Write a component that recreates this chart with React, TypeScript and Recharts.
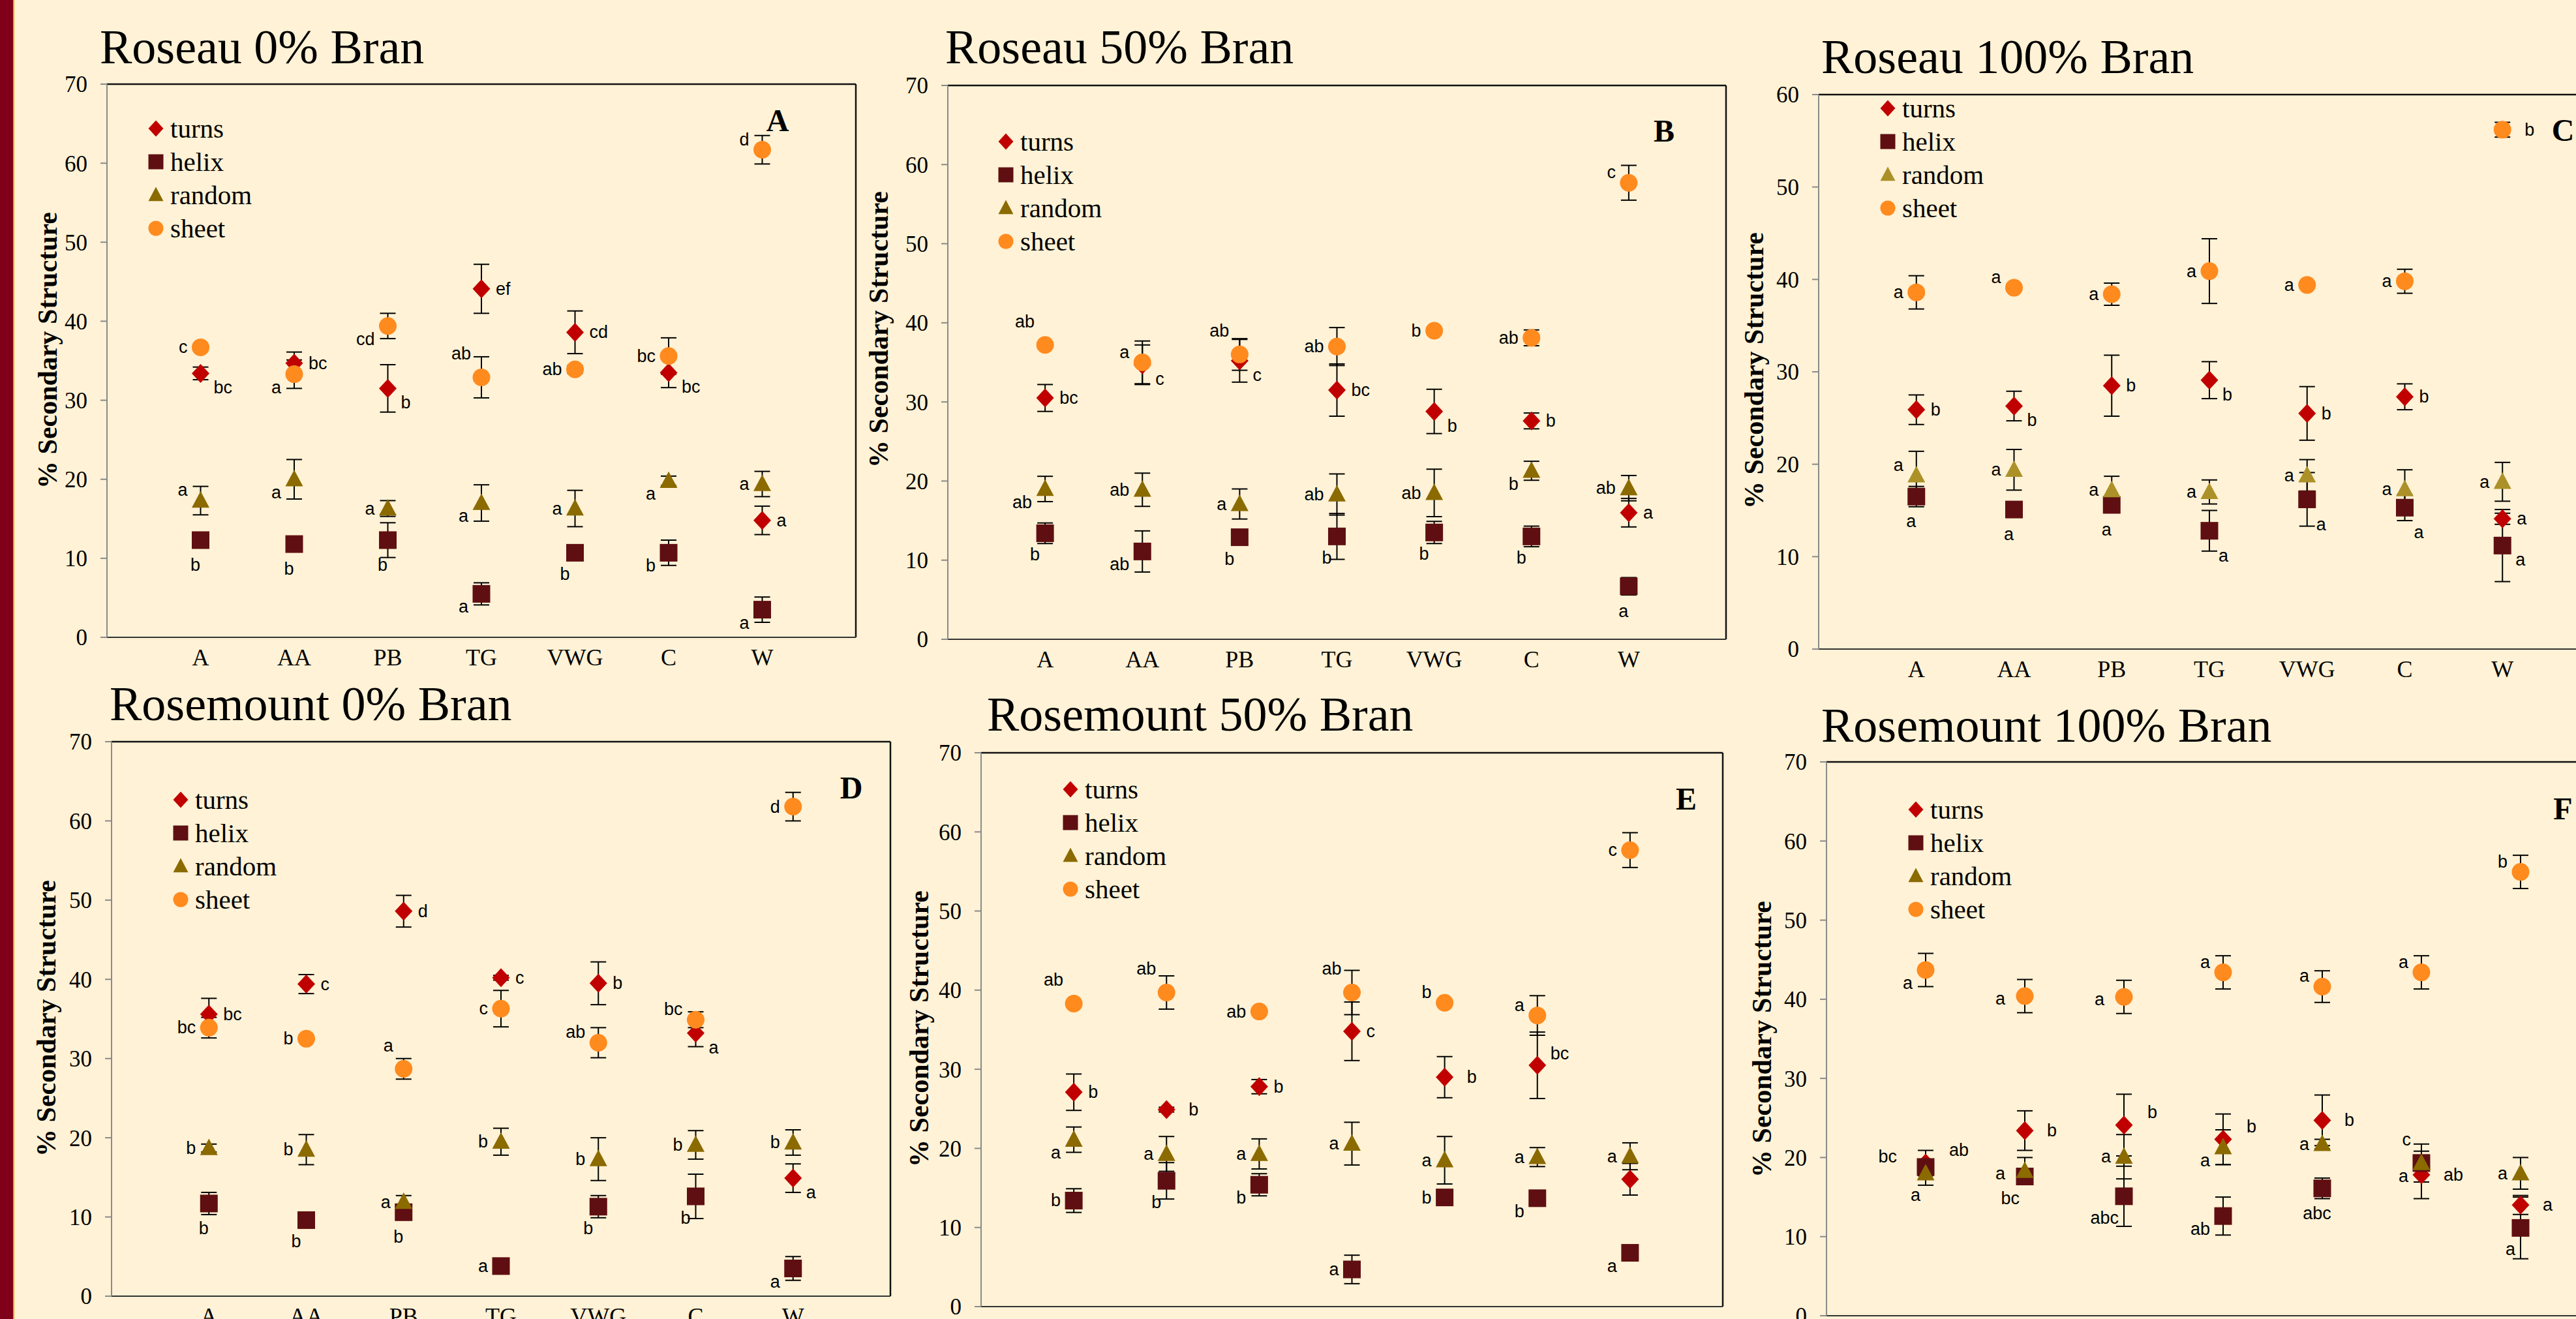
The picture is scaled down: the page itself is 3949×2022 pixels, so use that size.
import React from 'react';
import { ScatterChart, Scatter, XAxis, YAxis, ErrorBar, ReferenceLine } from 'recharts';

// ---------------- data ----------------
const categories = ['A', 'AA', 'PB', 'TG', 'VWG', 'C', 'W'];
const seriesNames = ['turns', 'helix', 'random', 'sheet'];

// Panel A – Roseau 0% Bran
const aTurns = [33.4, 34.7, 31.5, 44.1, 38.6, 33.5, 14.8];
const aTurnsErr = [0.8, 1.4, 3.0, 3.1, 2.7, 1.9, 1.8];
const aTurnsSig = ['bc', 'bc', 'b', 'ef', 'cd', 'bc', 'a'];
const aTurnsPos = ['rb', 'r', 'rb', 'r', 'r', 'rb', 'r'];
const aHelix = [12.3, 11.8, 12.3, 5.5, 10.7, 10.7, 3.5];
const aHelixErr = [0.8, 0.6, 2.2, 1.4, 0.3, 1.6, 1.6];
const aHelixSig = ['b', 'b', 'b', 'a', 'b', 'b', 'a'];
const aHelixPos = ['b', 'b', 'b', 'lb', 'bl', 'lb', 'lb'];
const aRandom = [17.3, 20.0, 16.3, 17.0, 16.3, 19.8, 19.4];
const aRandomErr = [1.8, 2.5, 1.0, 2.3, 2.3, 0.6, 1.6];
const aRandomSig = ['a', 'a', 'a', 'a', 'a', 'a', 'a'];
const aRandomPos = ['lt', 'lb', 'l', 'lb', 'l', 'lb', 'l'];
const aSheet = [36.7, 33.3, 39.4, 32.9, 33.9, 35.6, 61.7];
const aSheetErr = [0.3, 1.8, 1.6, 2.6, 0.5, 2.3, 1.8];
const aSheetSig = ['c', 'a', 'cd', 'ab', 'ab', 'bc', 'd'];
const aSheetPos = ['l', 'lb', 'lb', 'tl', 'l', 'l', 'lt'];

// Panel B – Roseau 50% Bran
const bTurns = [30.5, 34.7, 35.2, 31.5, 28.8, 27.6, 16.0];
const bTurnsErr = [1.7, 2.5, 2.7, 3.3, 2.8, 1.0, 1.8];
const bTurnsSig = ['bc', 'c', 'c', 'bc', 'b', 'b', 'a'];
const bTurnsPos = ['r', 'rb', 'rb', 'r', 'rb', 'r', 'r'];
const bHelix = [13.4, 11.1, 12.9, 13.0, 13.5, 13.0, 6.7];
const bHelixErr = [1.3, 2.6, 0.4, 2.9, 1.4, 1.3, 1.1];
const bHelixSig = ['b', 'ab', 'b', 'b', 'b', 'b', 'a'];
const bHelixPos = ['bl', 'lb', 'bl', 'bl', 'bl', 'bl', 'b'];
const bRandom = [19.0, 18.9, 17.1, 18.3, 18.5, 21.3, 19.1];
const bRandomErr = [1.6, 2.1, 1.9, 2.6, 3.0, 1.2, 1.6];
const bRandomSig = ['ab', 'ab', 'a', 'ab', 'ab', 'b', 'ab'];
const bRandomPos = ['lb', 'l', 'l', 'l', 'l', 'lb', 'l'];
const bSheet = [37.2, 35.0, 36.0, 37.0, 39.0, 38.1, 57.7];
const bSheetErr = [0.3, 2.7, 2.0, 2.4, 0.3, 1.0, 2.2];
const bSheetSig = ['ab', 'a', 'ab', 'ab', 'b', 'ab', 'c'];
const bSheetPos = ['tl', 'lt', 'tl', 'l', 'l', 'l', 'lt'];

// Panel C – Roseau 100% Bran
const cTurns = [25.9, 26.3, 28.5, 29.1, 25.5, 27.3, 14.1];
const cTurnsErr = [1.6, 1.6, 3.3, 2.0, 2.9, 1.4, 0.6];
const cTurnsSig = ['b', 'b', 'b', 'b', 'b', 'b', 'a'];
const cTurnsPos = ['r', 'rb', 'r', 'rb', 'r', 'r', 'r'];
const cHelix = [16.5, 15.1, 15.6, 12.8, 16.2, 15.3, 11.2];
const cHelixErr = [1.1, 0.3, 0.3, 2.2, 2.9, 1.4, 3.9];
const cHelixSig = ['a', 'a', 'a', 'a', 'a', 'a', 'a'];
const cHelixPos = ['b', 'b', 'b', 'br', 'br', 'br', 'rb'];
const cRandom = [18.8, 19.4, 17.2, 17.0, 18.8, 17.3, 18.1];
const cRandomErr = [2.6, 2.2, 1.5, 1.3, 1.7, 2.1, 2.1];
const cRandomSig = ['a', 'a', 'a', 'a', 'a', 'a', 'a'];
const cRandomPos = ['lt', 'l', 'l', 'l', 'l', 'l', 'l'];
const cSheet = [38.6, 39.1, 38.4, 40.9, 39.4, 39.8, 56.2];
const cSheetErr = [1.8, 0.3, 1.2, 3.5, 0.3, 1.3, 0.8];
const cSheetSig = ['a', 'a', 'a', 'a', 'a', 'a', 'b'];
const cSheetPos = ['l', 'lt', 'l', 'l', 'l', 'l', 'R'];

// Panel D – Rosemount 0% Bran
const dTurns = [35.6, 39.4, 48.6, 40.2, 39.5, 33.2, 14.9];
const dTurnsErr = [2.0, 1.2, 2.0, 0.3, 2.7, 1.7, 1.8];
const dTurnsSig = ['bc', 'c', 'd', 'c', 'b', 'a', 'a'];
const dTurnsPos = ['r', 'r', 'r', 'r', 'r', 'rb', 'rb'];
const dHelix = [11.7, 9.6, 10.6, 3.8, 11.3, 12.6, 3.5];
const dHelixErr = [1.4, 0.3, 0.3, 0.3, 1.4, 2.8, 1.5];
const dHelixSig = ['b', 'b', 'b', 'a', 'b', 'b', 'a'];
const dHelixPos = ['b', 'bl', 'b', 'l', 'bl', 'bl', 'lb'];
const dRandom = [18.7, 18.5, 11.9, 19.5, 17.3, 19.1, 19.4];
const dRandomErr = [0.5, 1.9, 0.8, 1.7, 2.7, 1.8, 1.6];
const dRandomSig = ['b', 'b', 'a', 'b', 'b', 'b', 'b'];
const dRandomPos = ['l', 'l', 'l', 'l', 'l', 'l', 'l'];
const dSheet = [33.9, 32.5, 28.7, 36.3, 32.0, 34.9, 61.8];
const dSheetErr = [1.3, 0.3, 1.3, 2.3, 1.9, 1.0, 1.8];
const dSheetSig = ['bc', 'b', 'a', 'c', 'ab', 'bc', 'd'];
const dSheetPos = ['l', 'l', 'tl', 'l', 'lt', 'lt', 'l'];

// Panel E – Rosemount 50% Bran
const eTurns = [27.1, 24.9, 27.8, 34.8, 29.0, 30.5, 16.1];
const eTurnsErr = [2.3, 0.3, 0.9, 3.7, 2.6, 4.2, 2.0];
const eTurnsSig = ['b', 'b', 'b', 'c', 'b', 'bc', ''];
const eTurnsPos = ['r', 'R', 'r', 'r', 'R', 'rt', 'r'];
const eHelix = [13.4, 15.9, 15.4, 4.7, 13.8, 13.7, 6.8];
const eHelixErr = [1.5, 2.3, 1.4, 1.8, 0.6, 0.5, 0.7];
const eHelixSig = ['b', 'b', 'b', 'a', 'b', 'b', 'a'];
const eHelixPos = ['l', 'bl', 'lb', 'l', 'l', 'lb', 'lb'];
const eRandom = [21.1, 19.3, 19.3, 20.6, 18.5, 18.9, 19.0];
const eRandomErr = [1.6, 2.2, 1.9, 2.7, 3.0, 1.2, 1.7];
const eRandomSig = ['a', 'a', 'a', 'a', 'a', 'a', 'a'];
const eRandomPos = ['lb', 'l', 'l', 'l', 'l', 'l', 'l'];
const eSheet = [38.3, 39.7, 37.3, 39.7, 38.4, 36.8, 57.7];
const eSheetErr = [0.3, 2.1, 0.3, 2.8, 0.3, 2.5, 2.2];
const eSheetSig = ['ab', 'ab', 'ab', 'ab', 'b', 'a', 'c'];
const eSheetPos = ['tl', 'tl', 'l', 'tl', 'lt', 'lt', 'l'];

// Panel F – Rosemount 100% Bran
const fTurns = [19.3, 23.4, 24.1, 22.3, 24.7, 17.8, 14.0];
const fTurnsErr = [1.6, 2.5, 3.9, 3.2, 3.2, 3.0, 1.2];
const fTurnsSig = ['ab', 'b', 'b', 'b', 'b', 'ab', 'a'];
const fTurnsPos = ['RT', 'R', 'RT', 'RT', 'R', 'R', 'R'];
const fHelix = [18.8, 17.6, 15.1, 12.6, 16.1, 19.3, 11.1];
const fHelixErr = [0.6, 0.3, 3.8, 2.4, 1.3, 1.0, 3.9];
const fHelixSig = ['bc', 'bc', 'abc', 'ab', 'abc', 'c', 'a'];
const fHelixPos = ['LT', 'bl', 'bl', 'lb', 'b', 'tl', 'bl'];
const fRandom = [18.0, 18.3, 20.1, 21.3, 21.7, 19.3, 18.0];
const fRandomErr = [1.5, 1.7, 2.8, 2.2, 0.6, 2.4, 2.0];
const fRandomSig = ['a', 'a', 'a', 'a', 'a', 'a', 'a'];
const fRandomPos = ['bl', 'L', 'l', 'lb', 'l', 'lb', 'l'];
const fSheet = [43.7, 40.4, 40.3, 43.4, 41.6, 43.4, 56.1];
const fSheetErr = [2.1, 2.1, 2.1, 2.1, 2.0, 2.1, 2.1];
const fSheetSig = ['a', 'a', 'a', 'a', 'a', 'a', 'b'];
const fSheetPos = ['lb', 'L', 'L', 'lt', 'lt', 'lt', 'lt'];

// ---------------- build ----------------
type Pt = { x: number; y: number; err: number; sig: string; pos: string };
const mk = (v: number[], e: number[], s: string[], p: string[]): Pt[] =>
  categories.map((_, i) => ({ x: i + 1, y: v[i], err: e[i], sig: s[i], pos: p[i] }));

const PANEL_SERIES: Pt[][][] = [
  [mk(aTurns, aTurnsErr, aTurnsSig, aTurnsPos), mk(aHelix, aHelixErr, aHelixSig, aHelixPos), mk(aRandom, aRandomErr, aRandomSig, aRandomPos), mk(aSheet, aSheetErr, aSheetSig, aSheetPos)],
  [mk(bTurns, bTurnsErr, bTurnsSig, bTurnsPos), mk(bHelix, bHelixErr, bHelixSig, bHelixPos), mk(bRandom, bRandomErr, bRandomSig, bRandomPos), mk(bSheet, bSheetErr, bSheetSig, bSheetPos)],
  [mk(cTurns, cTurnsErr, cTurnsSig, cTurnsPos), mk(cHelix, cHelixErr, cHelixSig, cHelixPos), mk(cRandom, cRandomErr, cRandomSig, cRandomPos), mk(cSheet, cSheetErr, cSheetSig, cSheetPos)],
  [mk(dTurns, dTurnsErr, dTurnsSig, dTurnsPos), mk(dHelix, dHelixErr, dHelixSig, dHelixPos), mk(dRandom, dRandomErr, dRandomSig, dRandomPos), mk(dSheet, dSheetErr, dSheetSig, dSheetPos)],
  [mk(eTurns, eTurnsErr, eTurnsSig, eTurnsPos), mk(eHelix, eHelixErr, eHelixSig, eHelixPos), mk(eRandom, eRandomErr, eRandomSig, eRandomPos), mk(eSheet, eSheetErr, eSheetSig, eSheetPos)],
  [mk(fTurns, fTurnsErr, fTurnsSig, fTurnsPos), mk(fHelix, fHelixErr, fHelixSig, fHelixPos), mk(fRandom, fRandomErr, fRandomSig, fRandomPos), mk(fSheet, fSheetErr, fSheetSig, fSheetPos)],
];

// ---------------- layout / style ----------------
const LAYOUT = [
  { title: 'Roseau 0% Bran', tag: 'A', left: 164, top: 129, right: 1312, bottom: 977, yMax: 70, tx: 153, ty: 97, yl: [73, 537], lt: [1192, 184], leg: [239, 197], rnd: '#8B6A00' },
  { title: 'Roseau 50% Bran', tag: 'B', left: 1453, top: 131, right: 2646, bottom: 980, yMax: 70, tx: 1449, ty: 97, yl: [1347, 505], lt: [2551, 200], leg: [1542, 217], rnd: '#8B6A00' },
  { title: 'Roseau 100% Bran', tag: 'C', left: 2788, top: 145, right: 3986, bottom: 995, yMax: 60, tx: 2792, ty: 112, yl: [2689, 568], lt: [3929, 199], leg: [2894, 166], rnd: '#AC9128' },
  { title: 'Rosemount 0% Bran', tag: 'D', left: 171, top: 1137, right: 1365, bottom: 1987, yMax: 70, tx: 168, ty: 1104, yl: [71, 1561], lt: [1305, 1207], leg: [277, 1226], rnd: '#8B6A00' },
  { title: 'Rosemount 50% Bran', tag: 'E', left: 1504, top: 1154, right: 2641, bottom: 2003, yMax: 70, tx: 1513, ty: 1120, yl: [1409, 1577], lt: [2585, 1224], leg: [1641, 1210], rnd: '#8B6A00' },
  { title: 'Rosemount 100% Bran', tag: 'F', left: 2800, top: 1168, right: 4016, bottom: 2017, yMax: 70, tx: 2792, ty: 1137, yl: [2701, 1593], lt: [3929, 1239], leg: [2937, 1241], rnd: '#8B6A00' },
];

const BG = '#FFF2D6';
const TURNS = '#C00000';
const HELIX = '#5F0F12';
const SHEET = '#FF8A1E';
const SERIF = '"Liberation Serif", "Times New Roman", serif';
const SANS = '"Liberation Sans", Arial, sans-serif';

const OFF: Record<string, [string, number, number]> = {
  r: ['start', 22, 0],
  R: ['start', 34, 0],
  rt: ['start', 20, -18],
  RT: ['start', 36, -20],
  rb: ['start', 20, 22],
  l: ['end', -20, 0],
  L: ['end', -30, 4],
  lt: ['end', -20, -16],
  LT: ['end', -44, -16],
  lb: ['end', -20, 20],
  b: ['middle', -8, 38],
  bl: ['end', -8, 33],
  br: ['start', 14, 38],
  tl: ['end', -16, -36],
};

function drawMarker(kind: number, cx: number, cy: number, color: string, s: number) {
  const h = s / 2;
  if (kind === 0)
    return <polygon points={`${cx},${cy - h - 1} ${cx + h},${cy} ${cx},${cy + h + 1} ${cx - h},${cy}`} fill={color} />;
  if (kind === 1) return <rect x={cx - h} y={cy - h} width={s} height={s} fill={color} />;
  if (kind === 2)
    return <polygon points={`${cx},${cy - h - 1} ${cx + h},${cy + h * 0.8} ${cx - h},${cy + h * 0.8}`} fill={color} />;
  return <circle cx={cx} cy={cy} r={h} fill={color} />;
}

function makeShape(kind: number, color: string) {
  return (props: any) => {
    const { cx, cy, payload } = props;
    if (cx == null || cy == null) return <g />;
    const o = OFF[payload.pos] || OFF.r;
    return (
      <g>
        {drawMarker(kind, cx, cy, color, 27)}
        {payload.sig ? (
          <text x={cx + o[1]} y={cy + o[2]} textAnchor={o[0] as any} dominantBaseline="central" fontFamily={SANS} fontSize={27} fill="#000">
            {payload.sig}
          </text>
        ) : null}
      </g>
    );
  };
}

const YW = 150;
const MT = 20;
const MR = 20;
const XH = 70;

function Panel({ idx }: { idx: number }) {
  const L = LAYOUT[idx];
  const series = PANEL_SERIES[idx];
  const colors = [TURNS, HELIX, L.rnd, SHEET];
  const plotW = L.right - L.left;
  const plotH = L.bottom - L.top;
  const ticks: number[] = [];
  for (let t = 0; t <= L.yMax; t += 10) ticks.push(t);
  return (
    <div style={{ position: 'absolute', left: L.left - YW, top: L.top - MT }}>
      <ScatterChart width={YW + plotW + MR} height={MT + plotH + XH} margin={{ top: MT, right: MR, left: 0, bottom: 0 }}>
        <XAxis
          type="number"
          dataKey="x"
          domain={[0, 8]}
          ticks={[1, 2, 3, 4, 5, 6, 7]}
          interval={0}
          tickFormatter={(v: number) => categories[v - 1] || ''}
          tickLine={false}
          tickSize={0}
          tickMargin={17}
          height={XH}
          axisLine={{ stroke: '#333', strokeWidth: 2 }}
          tick={{ fontFamily: SERIF, fontSize: 36, fill: '#000' }}
        />
        <YAxis
          type="number"
          dataKey="y"
          domain={[0, L.yMax]}
          ticks={ticks}
          interval={0}
          width={YW}
          tickSize={10}
          tickMargin={20}
          axisLine={{ stroke: '#8a8a8a', strokeWidth: 2 }}
          tickLine={{ stroke: '#8a8a8a', strokeWidth: 2 }}
          tick={{ fontFamily: SERIF, fontSize: 35, fill: '#000' }}
        />
        <ReferenceLine y={L.yMax} stroke="#111" strokeWidth={2.5} />
        <ReferenceLine x={8} stroke="#111" strokeWidth={2.5} />
        {series.map((data, k) => (
          <Scatter key={seriesNames[k]} name={seriesNames[k]} data={data} isAnimationActive={false} shape={makeShape(k, colors[k])}>
            <ErrorBar dataKey="err" direction="y" width={12} strokeWidth={2} stroke="#000" />
          </Scatter>
        ))}
      </ScatterChart>
    </div>
  );
}

function Overlay() {
  return (
    <svg width={3949} height={2022} style={{ position: 'absolute', left: 0, top: 0, pointerEvents: 'none' }}>
      {LAYOUT.map((L, i) => {
        const colors = [TURNS, HELIX, L.rnd, SHEET];
        return (
          <g key={i}>
            <text x={L.tx} y={L.ty} fontFamily={SERIF} fontSize={74} fill="#000">
              {L.title}
            </text>
            <text
              transform={`translate(${L.yl[0]},${L.yl[1]}) rotate(-90)`}
              textAnchor="middle"
              dominantBaseline="central"
              fontFamily={SERIF}
              fontWeight="bold"
              fontSize={42}
              fill="#000"
            >
              % Secondary Structure
            </text>
            <text x={L.lt[0]} y={L.lt[1]} textAnchor="middle" dominantBaseline="central" fontFamily={SERIF} fontWeight="bold" fontSize={48} fill="#000">
              {L.tag}
            </text>
            {seriesNames.map((n, k) => {
              const cy = L.leg[1] + k * 51;
              return (
                <g key={n}>
                  {drawMarker(k, L.leg[0], cy, colors[k], 23)}
                  <text x={L.leg[0] + 22} y={cy + 14} fontFamily={SERIF} fontSize={41} fill="#000">
                    {n}
                  </text>
                </g>
              );
            })}
          </g>
        );
      })}
    </svg>
  );
}

export default function App() {
  return (
    <div style={{ position: 'absolute', left: 0, top: 0, width: 3949, height: 2022, overflow: 'hidden', background: BG }}>
      {LAYOUT.map((_, i) => (
        <Panel key={i} idx={i} />
      ))}
      <Overlay />
      <div style={{ position: 'absolute', left: 0, top: 0, width: 20, height: 2022, background: '#7F0018' }} />
      <div style={{ position: 'absolute', left: 20, top: 0, width: 2, height: 2022, background: '#EBAA10' }} />
    </div>
  );
}
